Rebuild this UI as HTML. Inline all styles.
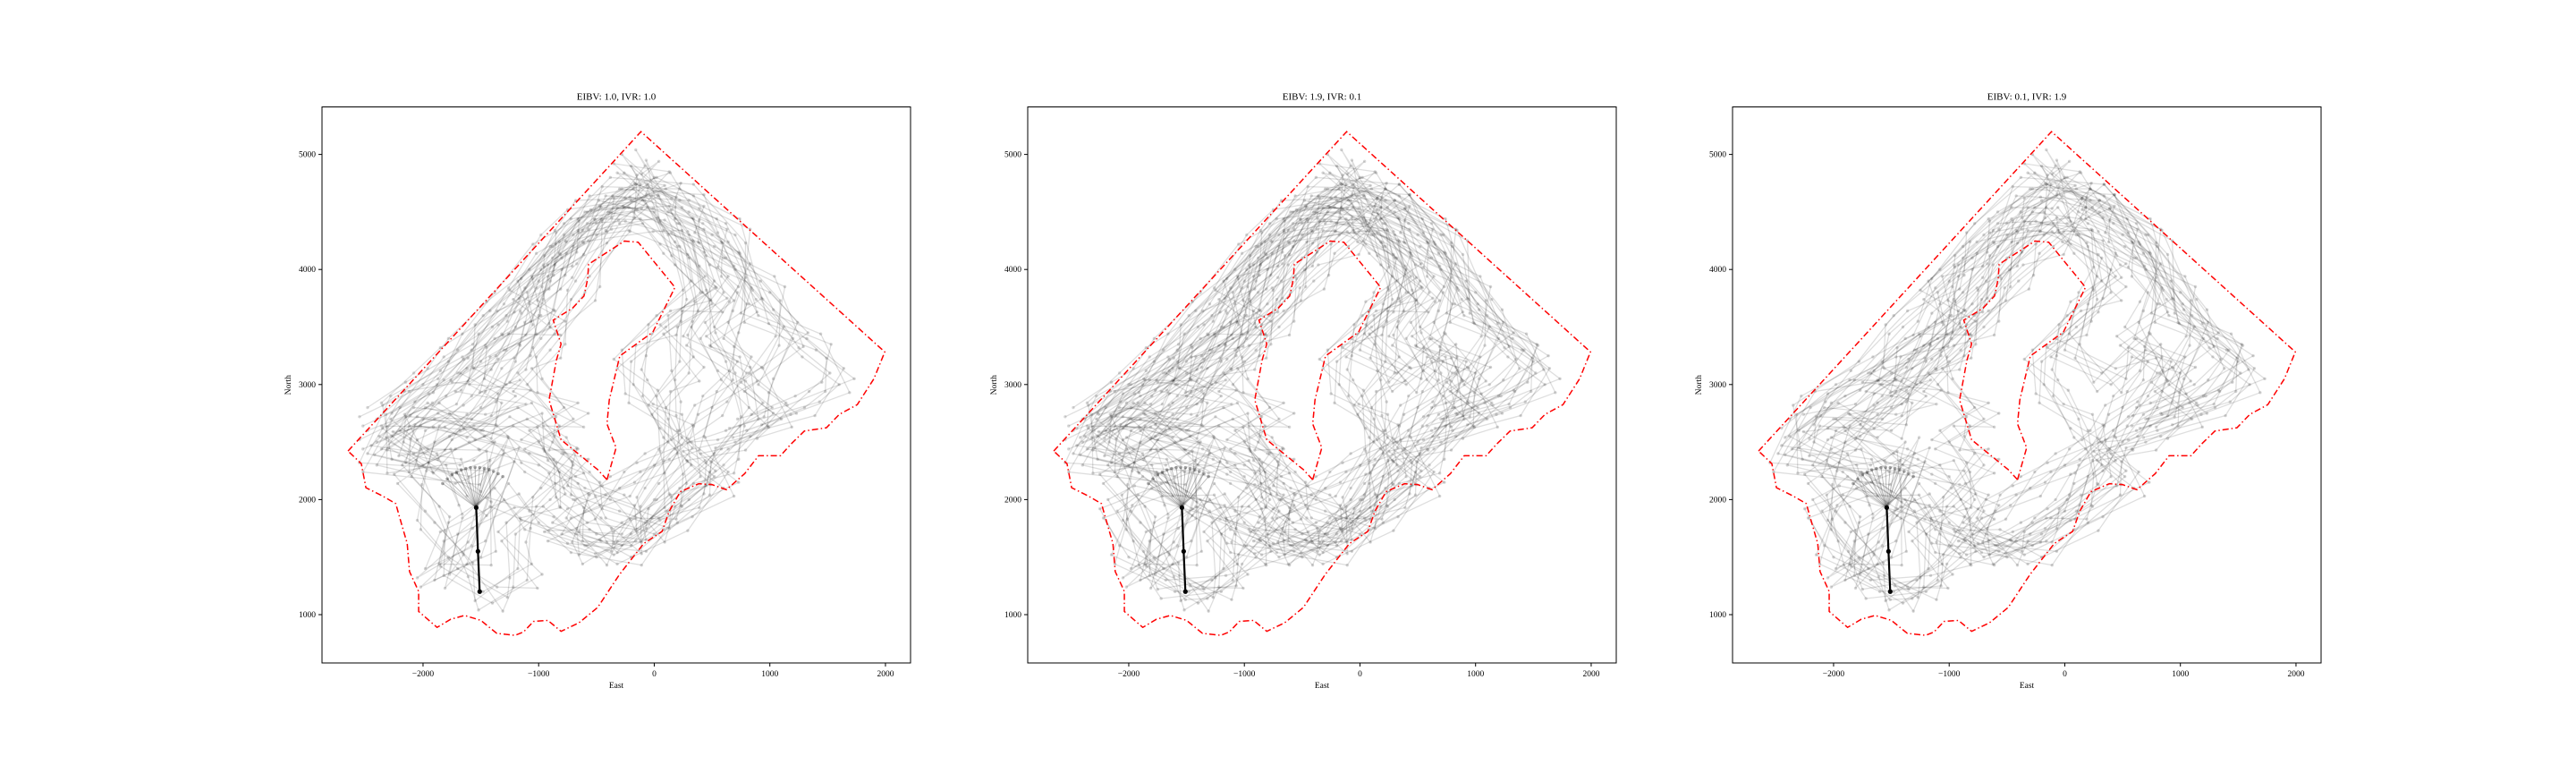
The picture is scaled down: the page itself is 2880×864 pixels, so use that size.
<!DOCTYPE html>
<html><head><meta charset="utf-8">
<style>
html,body{margin:0;padding:0;background:#fff;}
svg{display:block;font-family:"Liberation Serif",serif;}
</style></head>
<body>
<svg id="fig" width="2880" height="864" viewBox="0 0 2880 864" xmlns="http://www.w3.org/2000/svg"></svg>
<script>
const titles=["EIBV: 1.0, IVR: 1.0","EIBV: 1.9, IVR: 0.1","EIBV: 0.1, IVR: 1.9"];
const xTicks=[-2000,-1000,0,1000,2000];
const yTicks=[1000,2000,3000,4000,5000];
const xTickLabels=["\u22122000","\u22121000","0","1000","2000"];
const yTickLabels=["1000","2000","3000","4000","5000"];
const boundary=[[-2649,2422],[-115,5198],[1994,3283],[1900,3050],[1756,2825],[1600,2740],[1489,2624],[1299,2596],[1180,2480],[1092,2381],[902,2381],[782,2225],[624,2086],[500,2130],[385,2138],[226,2069],[130,1900],[67,1722],[-91,1618],[-300,1350],[-489,1063],[-650,930],[-806,855],[-920,950],[-1045,941],[-1130,850],[-1203,820],[-1362,837],[-1500,950],[-1640,993],[-1760,960],[-1879,889],[-2038,1028],[-2038,1201],[-2117,1375],[-2137,1618],[-2197,1826],[-2236,1965],[-2355,2034],[-2494,2103],[-2534,2312],[-2649,2422]];
const hole=[[-409,2173],[-330,2450],[-409,2658],[-389,2866],[-298,3248],[-12,3456],[179,3845],[-139,4237],[-258,4247],[-568,4046],[-576,3918],[-608,3769],[-707,3664],[-874,3560],[-806,3352],[-846,3213],[-910,2866],[-806,2520],[-489,2260],[-409,2173]];
const walkA=[[-1540,1930],[-1800,2300],[-2300,2450],[-2000,2700],[-1500,2600],[-1200,2900],[-1600,3000],[-1300,3300],[-900,3500],[-1100,3800],[-800,4100],[-500,4400],[-200,4600],[100,4700],[300,4500],[500,4300],[700,4000],[800,3700],[600,3400],[800,3100],[500,2800],[300,2500],[0,2300],[-300,2100],[-600,1900],[-800,1700],[-500,1500],[-200,1700],[100,1900],[400,2200],[200,2600],[-100,2900],[-200,3200],[100,3500],[400,3800],[200,4200],[-100,4400],[-500,4300],[-800,4000],[-1000,3600],[-1200,3200],[-1500,2800],[-1900,2500],[-2100,2200],[-1900,1800],[-1700,1400],[-1400,1100],[-1100,1300],[-1200,1700],[-900,2000],[-700,2300],[-1000,2500],[-700,2700],[-1100,3000],[-900,3300],[-600,3800],[-300,4400],[0,4800],[-200,4900],[200,4400],[600,4100],[1000,3800],[1200,3400],[900,3000],[1100,2700],[700,2500],[400,2400],[600,2100],[200,1800],[-200,1500],[-600,1600],[-1000,1800],[-1300,2000],[-1700,1700],[-1900,1300],[-1500,1500],[-1300,2400],[-1600,2200],[-2400,2300],[-2200,2800],[-1700,3100],[-1400,3500],[-1000,3900],[-700,4300],[-300,4700],[300,4600],[700,4300],[900,3600],[1400,3300],[1600,3000],[1300,2800],[800,2600]];
const walkB=[[-2400,2500],[-1900,2700],[-1400,2500],[-1000,2300],[-700,2000],[-500,1700],[-200,1600],[0,2000],[200,2400],[100,2800],[300,3100],[200,3500],[500,3700],[300,4100],[0,4500],[-400,4500],[-700,4200],[-900,3900],[-1200,3500],[-1500,3200],[-1800,2900],[-2200,2600],[-2000,2300],[-1600,2500],[-1100,2700],[-800,2400],[-600,2100],[-300,1900],[0,1700],[300,2000],[600,2300],[900,2700],[700,3100],[400,3400],[600,3800],[300,4300],[-100,4600],[-600,4500],[-900,4200],[-1300,3700],[-1700,3300],[-2000,3000],[-2400,2700]];
const walkC=[[-2300,2600],[-1900,2900],[-1500,3100],[-1100,3400],[-800,3700],[-500,4100],[-200,4400],[100,4300],[400,4000],[200,3700],[0,3300],[400,3000],[700,3300],[1000,3100],[800,2800],[500,2500],[200,2200],[0,1900],[-300,1700],[-700,1500],[-1000,1600],[-1300,1900],[-1800,2100],[-2100,1900],[-2000,1500],[-1600,1200],[-1200,1200],[-900,1500],[-700,1900],[-1000,2200],[-1400,2300],[-1900,2600],[-1500,2900],[-1000,3200],[-700,3500],[-400,3900],[-100,4200],[300,4600],[800,4200],[1100,3600],[1500,3200],[1200,2900],[700,2700]];
const fanOrigin=[-1540,1930];
const fanArcX=[-1830,-1790,-1750,-1710,-1670,-1630,-1590,-1550,-1510,-1470,-1430,-1390,-1350,-1310];
const fanArcY=[2140,2180,2215,2240,2258,2270,2278,2280,2278,2272,2262,2245,2225,2200];
const mainPath=[[-1540,1930],[-1525,1550],[-1510,1200]];
const panelWalks=[[walkA,walkB],[walkB,walkC,walkA],[walkA,walkC]];

const NS="http://www.w3.org/2000/svg";
const svg=document.getElementById('fig');
function mk(t,a,p){const e=document.createElementNS(NS,t);for(const k in a)e.setAttribute(k,a[k]);(p||svg).appendChild(e);return e;}
const W=658,H=621.5,TOP=119.5,lefts=[360,1149,1937];
const X0=-2874,X1=2217,Y0=580,Y1=5413;
const jit=[[0,0],[90,-70],[-80,100],[130,50],[-120,-60],[40,140],[-150,20]];
lefts.forEach((L,pi)=>{
  const sx=v=>L+(v-X0)/(X1-X0)*W, sy=v=>TOP+H-(v-Y0)/(Y1-Y0)*H;
  const g=mk('g',{});
  
  
  const t=mk('text',{x:L+W/2,y:TOP-8,'text-anchor':'middle','font-size':11},g);t.textContent=titles[pi];
  
  const wg=mk('g',{},g);
  
  panelWalks[pi].forEach((w,wi)=>{jit.forEach((j0,ji)=>{
    const off=i=>jit[(i*3+ji+wi)%jit.length];
    const pts=w.map((p,i)=>sx(p[0]+off(i)[0])+','+sy(p[1]+off(i)[1])).join(' ');
    mk('polyline',{points:pts,fill:'none',stroke:'#000','stroke-opacity':0.13,'stroke-width':1.3},wg);
    w.forEach((p,i)=>mk('circle',{cx:sx(p[0]+off(i)[0]),cy:sy(p[1]+off(i)[1]),r:1.7,fill:'#000','fill-opacity':0.16},wg));
  });});
  fanArcX.forEach((x,i)=>{
    const l=mk('line',{x1:sx(fanOrigin[0]),y1:sy(fanOrigin[1]),x2:sx(x),y2:sy(fanArcY[i]),stroke:'#000','stroke-opacity':0.25,'stroke-width':1},g);
    
    mk('circle',{cx:sx(x),cy:sy(fanArcY[i]),r:1.8,fill:'#000','fill-opacity':0.35},g);
  });
  const mp=mk('polyline',{points:mainPath.map(p=>sx(p[0])+','+sy(p[1])).join(' '),fill:'none',stroke:'#000','stroke-width':2.2},g);
  
  mainPath.forEach(p=>mk('circle',{cx:sx(p[0]),cy:sy(p[1]),r:2.6,fill:'#000'},g));
  [boundary,hole].forEach((b,bi)=>{
    const e=mk('polyline',{points:b.map(p=>sx(p[0])+','+sy(p[1])).join(' '),fill:'none',stroke:'#ff0000','stroke-width':1.5,'stroke-dasharray':'7,3,1.5,3'},g);
    
  });
  const fr=mk('rect',{x:L,y:TOP,width:W,height:H,fill:'none',stroke:'#000','stroke-width':1},g);
  
  xTicks.forEach((v,i)=>{
    mk('line',{x1:sx(v),x2:sx(v),y1:TOP+H,y2:TOP+H+4,stroke:'#000'},g);
    const tt=mk('text',{x:sx(v),y:TOP+H+15,'text-anchor':'middle','font-size':9.5},g);tt.textContent=xTickLabels[i];
    
  });
  yTicks.forEach((v,i)=>{
    mk('line',{x1:L-4,x2:L,y1:sy(v),y2:sy(v),stroke:'#000'},g);
    const tt=mk('text',{x:L-7,y:sy(v)+3,'text-anchor':'end','font-size':9.5},g);tt.textContent=yTickLabels[i];
    
  });
  const xl=mk('text',{x:L+W/2,y:TOP+H+28,'text-anchor':'middle','font-size':9.5},g);xl.textContent='East';
  
  const yl=mk('text',{x:0,y:0,'text-anchor':'middle','font-size':9.5,transform:`translate(${L-35},${TOP+H/2}) rotate(-90)`},g);yl.textContent='North';
  
});
</script>
</body></html>
